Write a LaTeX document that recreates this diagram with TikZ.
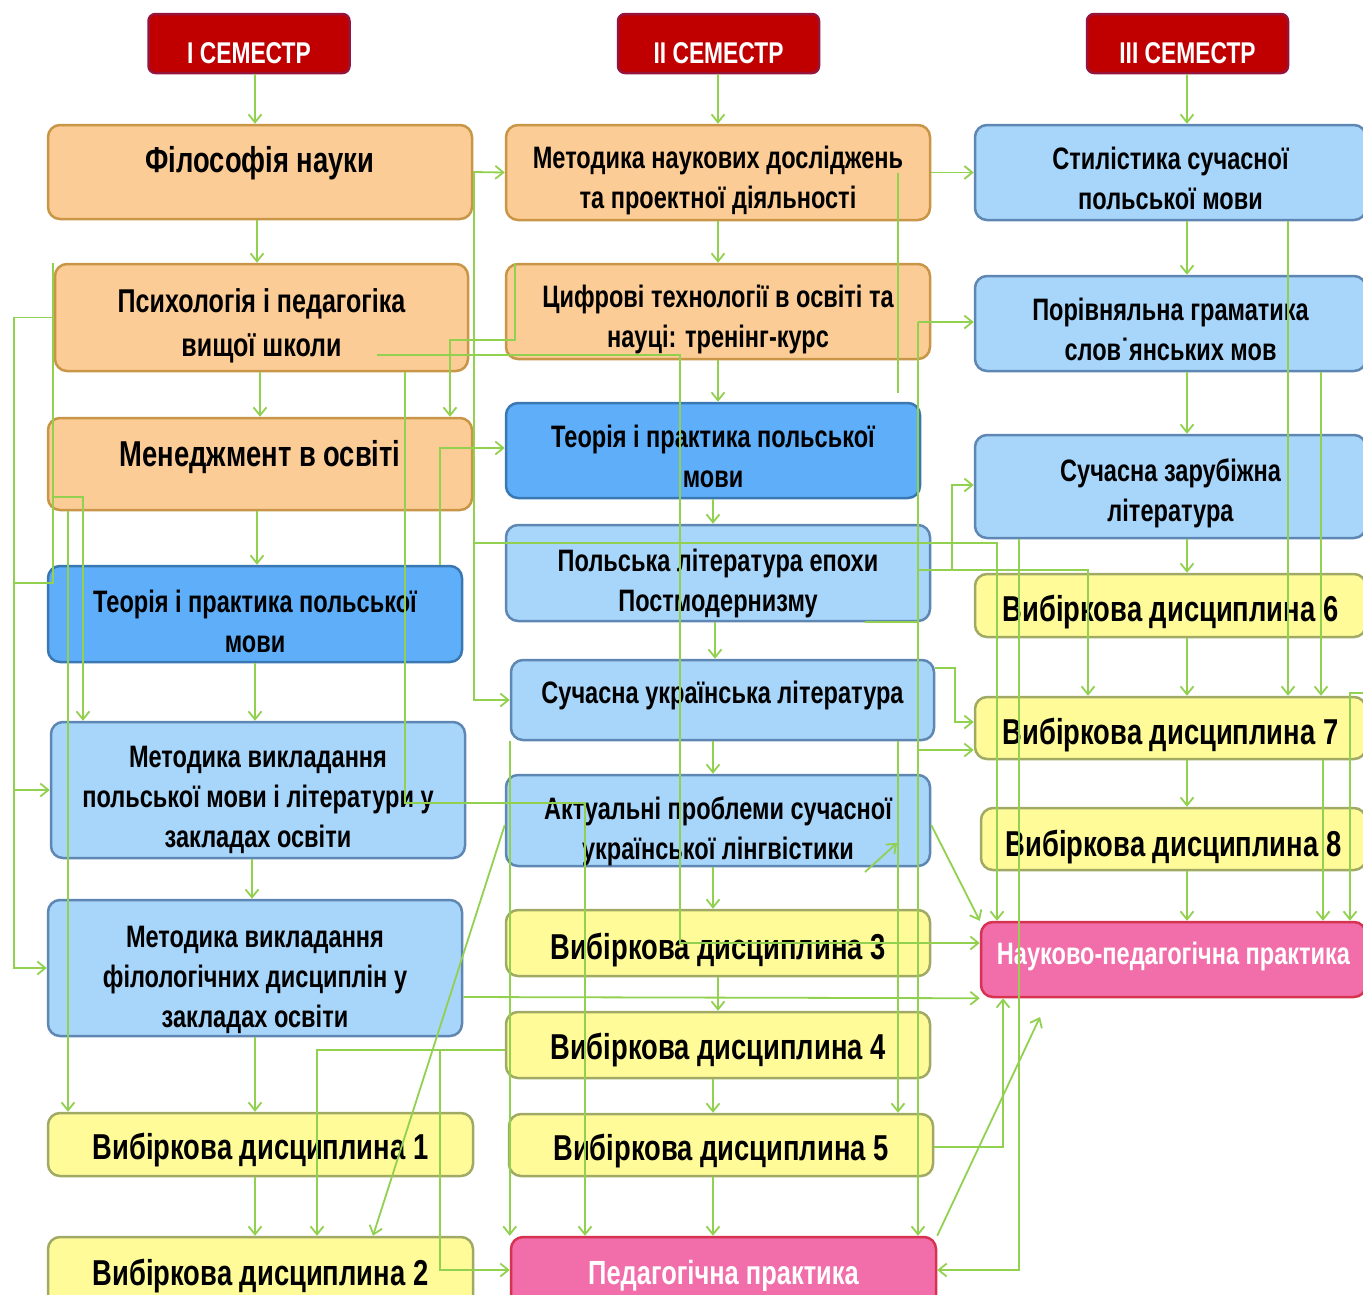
\documentclass[tikz,border=0pt]{standalone}
\usepackage{fontspec}
\setmainfont{Liberation Sans}[FakeStretch=0.76]
\usetikzlibrary{arrows.meta,calc}
\pgfdeclarelayer{bg}
\pgfsetlayers{bg,main}
\definecolor{hdrfill}{RGB}{192,0,0}
\definecolor{hdrdraw}{RGB}{150,20,60}
\definecolor{orfill}{RGB}{252,204,150}
\definecolor{ordraw}{RGB}{200,150,70}
\definecolor{dbfill}{RGB}{94,174,250}
\definecolor{dbdraw}{RGB}{58,120,180}
\definecolor{lbfill}{RGB}{168,213,250}
\definecolor{lbdraw}{RGB}{95,135,180}
\definecolor{yefill}{RGB}{255,251,152}
\definecolor{yedraw}{RGB}{160,170,100}
\definecolor{pkfill}{RGB}{241,110,170}
\definecolor{pkdraw}{RGB}{215,50,80}
\definecolor{lgreen}{RGB}{146,208,80}
\newcommand\vflow[3]{\draw[conn] (#1.south -| #3,0) -- (#2.north -| #3,0);}
% box style, label style, name, x, y, width, height, text shift down, text
\newcommand\bx[9]{\node[#1, minimum width=#6pt, minimum height=#7pt,
  label={[#2, yshift=-#8pt]center:{#9}}] (#3) at (#4,#5) {};}
\begin{document}
\begin{tikzpicture}[x=1pt,y=-1pt,
  box/.style={rounded corners=12pt, line width=2.5pt, inner sep=0pt},
  hdr/.style={box, fill=hdrfill, draw=hdrdraw, rounded corners=7pt},
  orb/.style={box, fill=orfill, draw=ordraw},
  dbb/.style={box, fill=dbfill, draw=dbdraw},
  lbb/.style={box, fill=lbfill, draw=lbdraw},
  yeb/.style={box, fill=yefill, draw=yedraw},
  pkb/.style={box, fill=pkfill, draw=pkdraw},
  tn/.style={align=center, inner sep=0pt, font=\bfseries\fontsize{31}{40}\selectfont},
  tb/.style={tn, font=\bfseries\fontsize{36}{40}\selectfont},
  tp/.style={tn, font=\bfseries\fontsize{33}{44}\selectfont},
  tw/.style={tn, text=white},
  tw2/.style={tn, text=white, font=\bfseries\fontsize{33.5}{40}\selectfont},
  th/.style={tn, text=white, font=\bfseries\fontsize{30}{34}\selectfont},
  conn/.style={draw=lgreen, line width=1.8pt, -{Straight Barb[length=8pt,width=13pt]}},
  plain/.style={draw=lgreen, line width=1.8pt}]
\useasboundingbox (0,0) rectangle (1363,1294);
\begin{pgfonlayer}{bg}
\fill[white] (0,0) rectangle (1363,1294);
\end{pgfonlayer}
\clip (0,0) rectangle (1363,1294);
% headers
\bx{hdr}{th}{s1}{249}{43.5}{201}{59}{10}{І СЕМЕСТР}
\bx{hdr}{th}{s2}{718.5}{43.5}{201}{59}{10}{ІІ СЕМЕСТР}
\bx{hdr}{th}{s3}{1187.5}{43.5}{201}{59}{10}{ІІІ СЕМЕСТР}
% column 1
\bx{orb}{tb}{phil}{260}{172}{424}{94}{-9}{Філософія науки}
\bx{orb}{tp}{psy}{261.5}{317.5}{413}{107}{8}{Психологія і педагогіка\\вищої школи}
\bx{orb}{tb}{man}{260}{464}{424}{92}{-7}{Менеджмент в освіті}
\bx{dbb}{tn}{teor1}{255}{614}{414}{96}{7}{Теорія і практика польської\\мови}
\bx{lbb}{tn}{metpol}{258}{790}{414}{136}{10}{Методика викладання\\польської мови і літератури у\\закладах освіти}
\bx{lbb}{tn}{metfil}{255}{968}{414}{136}{12}{Методика викладання\\філологічних дисциплін  у\\закладах освіти}
\bx{yeb}{tb}{vd1}{260.5}{1144.5}{425}{63}{6}{Вибіркова дисциплина 1}
\bx{yeb}{tb}{vd2}{260.5}{1273.5}{425}{73}{3}{Вибіркова дисциплина 2}
% column 2
\bx{orb}{tn}{mnd}{718}{172.5}{424}{95}{8}{Методика наукових досліджень\\та проектної діяльності}
\bx{orb}{tn}{cyf}{718}{311.5}{424}{95}{8}{Цифрові технології  в освіті та\\науці:  тренінг-курс}
\bx{dbb}{tn}{teor2}{713}{450.5}{414}{95}{6}{Теорія і практика польської\\мови}
\bx{lbb}{tn}{pollit}{718}{573}{424}{96}{10}{Польська література епохи\\Постмодернизму}
\bx{lbb}{tn}{sukr}{722.5}{700}{423}{80}{-5}{Сучасна українська література}
\bx{lbb}{tn}{akt}{718}{820.5}{424}{91}{11}{Актуальні проблеми сучасної\\української лінгвістики}
\bx{yeb}{tb}{vd3}{718}{943}{424}{66}{7}{Вибіркова дисциплина 3}
\bx{yeb}{tb}{vd4}{718}{1045}{424}{66}{5}{Вибіркова дисциплина 4}
\bx{yeb}{tb}{vd5}{721}{1145}{424}{62}{6}{Вибіркова дисциплина 5}
\bx{pkb}{tw2}{pedpr}{723.5}{1273.5}{425}{73}{2}{Педагогічна практика}
% column 3
\bx{lbb}{tn}{styl}{1170.5}{172.5}{391}{95}{6}{Стилістика сучасної\\польської мови}
\bx{lbb}{tn}{porivn}{1170.5}{323.5}{391}{95}{6}{Порівняльна граматика\\слов˙янських мов}
\bx{lbb}{tn}{suchzar}{1170.5}{486.5}{391}{103}{7}{Сучасна зарубіжна\\література}
\bx{yeb}{tb}{vd6}{1170.5}{605.5}{391}{63}{7}{Вибіркова дисциплина 6}
\bx{yeb}{tb}{vd7}{1170.5}{728}{391}{62}{7}{Вибіркова дисциплина 7}
\bx{yeb}{tb}{vd8}{1173.5}{839}{385}{62}{8}{Вибіркова дисциплина 8}
\bx{pkb}{tw}{npp}{1173.5}{959.5}{385}{75}{-3}{Науково-педагогічна практика}
% junction coordinates
\coordinate (j1) at (473,543);
\coordinate (t0) at (918,322);
\coordinate (t1) at (918,570);
\coordinate (t2) at (952,570);
\coordinate (t3) at (918,750);
\coordinate (p1) at (377,355);
\coordinate (q1) at (14,790);
\coordinate (q2) at (53,497);
\coordinate (k1) at (440,1050);
\coordinate (e1) at (1363,693);
\coordinate (f1) at (865,872);
\coordinate (f2) at (897,843);
\coordinate (f3) at (1040,1017);
\coordinate (m1) at (898,393);
% vertical flows
\vflow{s1}{phil}{255}
\vflow{phil}{psy}{257}
\vflow{psy}{man}{260}
\vflow{man}{teor1}{257}
\vflow{teor1}{metpol}{255}
\vflow{metpol}{metfil}{252}
\vflow{metfil}{vd1}{255}
\vflow{vd1}{vd2}{255}
\vflow{s2}{mnd}{718}
\vflow{mnd}{cyf}{718}
\vflow{cyf}{teor2}{718}
\vflow{teor2}{pollit}{713}
\vflow{pollit}{sukr}{715}
\vflow{sukr}{akt}{713}
\vflow{akt}{vd3}{713}
\vflow{vd3}{vd4}{718}
\vflow{vd4}{vd5}{713}
\vflow{vd5}{pedpr}{713}
\vflow{s3}{styl}{1187}
\vflow{styl}{porivn}{1187}
\vflow{porivn}{suchzar}{1187}
\vflow{suchzar}{vd6}{1187}
\vflow{vd6}{vd7}{1187}
\vflow{vd7}{vd8}{1187}
\vflow{vd8}{npp}{1187}
% cross connectors
\draw[conn] (phil.east) -- (mnd.west);
\draw[conn] (phil.east) -- ++(1,0) |- (sukr.west);
\draw[conn] (j1) -| (npp.north -| 997,0);
\draw[conn] (mnd.east) -- (styl.west);
\draw[plain] (mnd.center -| 898,0) -- (m1);
\draw[conn] (sukr.south -| 898,0) -- (vd5.north -| 898,0);
\draw[conn] (t0) -- (porivn.west |- t0);
\draw[conn] (t0) -- (pedpr.north -| t0);
\draw[conn] (t1) -| (952,485) -- (suchzar.west |- 0,485);
\draw[conn] (t2) -| (vd7.north -| 1088,0);
\draw[conn] (t3) -- (vd7.west |- t3);
\draw[plain] (pollit.south -| 865,0) -- (pollit.south -| t0);
\draw[conn] (sukr.east |- 0,668) -| (955,722) -- (vd7.west |- 0,722);
\draw[conn] (cyf.north -| 515,0) |- (450,340) -- (man.north -| 450,0);
\draw[conn] (p1) -| (680,943) -- (npp.west |- 0,943);
\draw[conn] (psy.south -| 405,0) |- (585,803) -- (pedpr.north -| 585,0);
\draw[conn] (psy.west) -| (14,968) -- (metfil.west |- 0,968);
\draw[conn] (q1) -- (metpol.west |- q1);
\draw[plain] (psy.north -| 53,0) |- (14,583);
\draw[conn] (q2) -| (metpol.north -| 83,0);
\draw[conn] (man.south -| 68,0) -- (vd1.north -| 68,0);
\draw[conn] (teor1.north -| 440,0) |- (teor2.west |- 0,448);
\draw[conn] (akt.west |- 0,825) -- (vd2.north -| 373,0);
\draw[conn] (akt.east |- 0,825) -- (npp.north west);
\draw[conn] (f1) -- (f2);
\draw[conn] (metfil.east |- 0,997) -- (npp.south west);
\draw[conn] (vd4.west |- k1) -| (vd2.north -| 317,0);
\draw[conn] (k1) |- (pedpr.west |- 0,1270);
\draw[conn] (sukr.south west) -- (pedpr.north west);
\draw[conn] (suchzar.south -| 1019,0) |- (pedpr.east |- 0,1270);
\draw[conn] (styl.south -| 1288,0) -- (vd7.north -| 1288,0);
\draw[conn] (porivn.south -| 1321,0) -- (vd7.north -| 1321,0);
\draw[conn] (vd7.south -| 1323,0) -- (npp.north -| 1323,0);
\draw[conn] (e1) -| (npp.north -| 1350,0);
\draw[conn] (vd5.east |- 0,1147) -| (npp.south -| 1003,0);
\draw[conn] (pedpr.north east) -- (f3);
\end{tikzpicture}
\end{document}
